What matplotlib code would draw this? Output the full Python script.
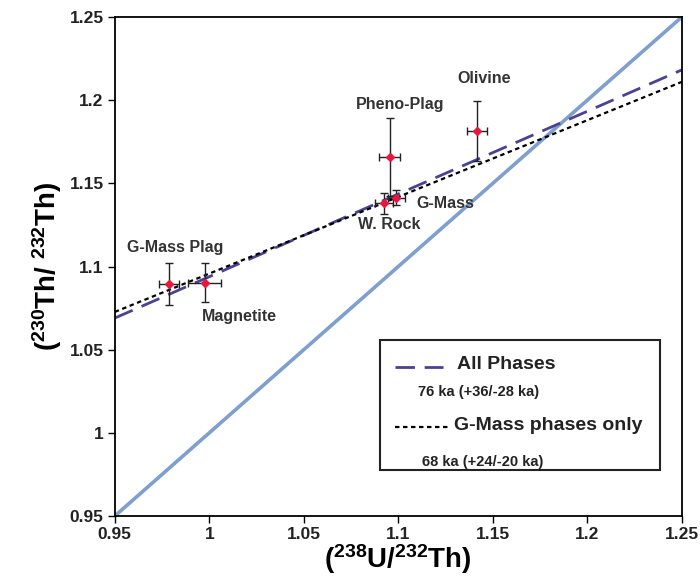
import matplotlib.pyplot as plt
import numpy as np

plt.rcParams['font.family'] = ['Liberation Sans', 'DejaVu Sans']
plt.rcParams['font.weight'] = 'bold'
plt.rcParams['mathtext.fontset'] = 'custom'
plt.rcParams['mathtext.rm'] = 'Liberation Sans:bold'
plt.rcParams['mathtext.default'] = 'rm'

# phase data
phases = ['G-Mass Plag', 'Magnetite', 'Pheno-Plag', 'Olivine', 'W. Rock', 'G-Mass']
u_th = [0.9786, 0.9975, 1.0955, 1.1414, 1.0925, 1.0990]
th_th = [1.0895, 1.0903, 1.1657, 1.1815, 1.1380, 1.1414]
u_err = [0.0053, 0.0086, 0.0055, 0.0053, 0.0046, 0.0044]
th_err = [0.0129, 0.0118, 0.0233, 0.0180, 0.0062, 0.0045]

# label anchor positions (data coords)
label_x = [0.9817, 1.0161, 1.1008, 1.1452, 1.0950, 1.1251]
label_y = [1.1112, 1.0697, 1.1977, 1.2128, 1.1250, 1.1376]

# isochron end points
iso_x = [0.95, 1.25]
all_y = [1.069, 1.2182]
gmass_y = [1.0727, 1.211]

fig = plt.figure(figsize=(7, 5.79), dpi=100)
ax = fig.add_axes([0.164, 0.1088, 0.81, 0.8618])

ax.plot(iso_x, iso_x, color='#7f9fcf', lw=2.6, zorder=1)
ax.plot(iso_x, all_y, color='#4b4291', lw=2, dashes=(7, 3.5), zorder=2)
ax.plot(iso_x, gmass_y, color='black', lw=1.6, dashes=(2, 1.6), zorder=2)

ax.errorbar(u_th, th_th, xerr=u_err, yerr=th_err, fmt='none', ecolor='#222222',
            elinewidth=1, capsize=3, capthick=1, zorder=3)
ax.plot(u_th, th_th, 'D', color='#e8173b', ms=3.6, zorder=4)

for name, lx, ly in zip(phases, label_x, label_y):
    ax.text(lx, ly, name, ha='center', va='center', fontsize=11.5,
            fontweight='bold', color='#333333')

ax.set_xlim(0.95, 1.25)
ax.set_ylim(0.95, 1.25)
ticks = np.arange(0.95, 1.2501, 0.05)
tick_labels = ['0.95', '1', '1.05', '1.1', '1.15', '1.2', '1.25']
ax.set_xticks(ticks)
ax.set_yticks(ticks)
ax.set_xticklabels(tick_labels)
ax.set_yticklabels(tick_labels)
ax.tick_params(direction='out', length=5, width=1, labelsize=12.5, pad=3)
for lab in ax.get_xticklabels() + ax.get_yticklabels():
    lab.set_fontweight('bold')
    lab.set_color('#222222')
for s in ax.spines.values():
    s.set_linewidth(1.3)

ax.set_xlabel(r'($^{238}$U/$^{232}$Th)', fontsize=20, fontweight='bold', labelpad=0)
ax.set_ylabel(r'($^{230}$Th/ $^{232}$Th)', fontsize=20, fontweight='bold', labelpad=4)

# hand-made legend box
box = plt.Rectangle((0.467, 0.092), 0.494, 0.261, transform=ax.transAxes,
                    fill=True, facecolor='white', edgecolor='#222222', lw=1.5, zorder=5)
ax.add_patch(box)
ax.plot([0.494, 0.578], [0.299, 0.299], transform=ax.transAxes, color='#4b4291',
        lw=2, dashes=(7, 3.5), zorder=6)
ax.text(0.603, 0.304, 'All Phases', transform=ax.transAxes, fontsize=14,
        fontweight='bold', color='#222222', va='center', zorder=6)
ax.text(0.534, 0.248, '76 ka (+36/-28 ka)', transform=ax.transAxes, fontsize=10.5,
        fontweight='bold', color='#222222', va='center', zorder=6)
ax.plot([0.494, 0.587], [0.178, 0.178], transform=ax.transAxes, color='black',
        lw=1.6, dashes=(2, 1.6), zorder=6)
ax.text(0.598, 0.182, 'G-Mass phases only', transform=ax.transAxes, fontsize=14,
        fontweight='bold', color='#222222', va='center', zorder=6)
ax.text(0.541, 0.108, '68 ka (+24/-20 ka)', transform=ax.transAxes, fontsize=10.5,
        fontweight='bold', color='#222222', va='center', zorder=6)

fig.savefig('out.png', dpi=100)
